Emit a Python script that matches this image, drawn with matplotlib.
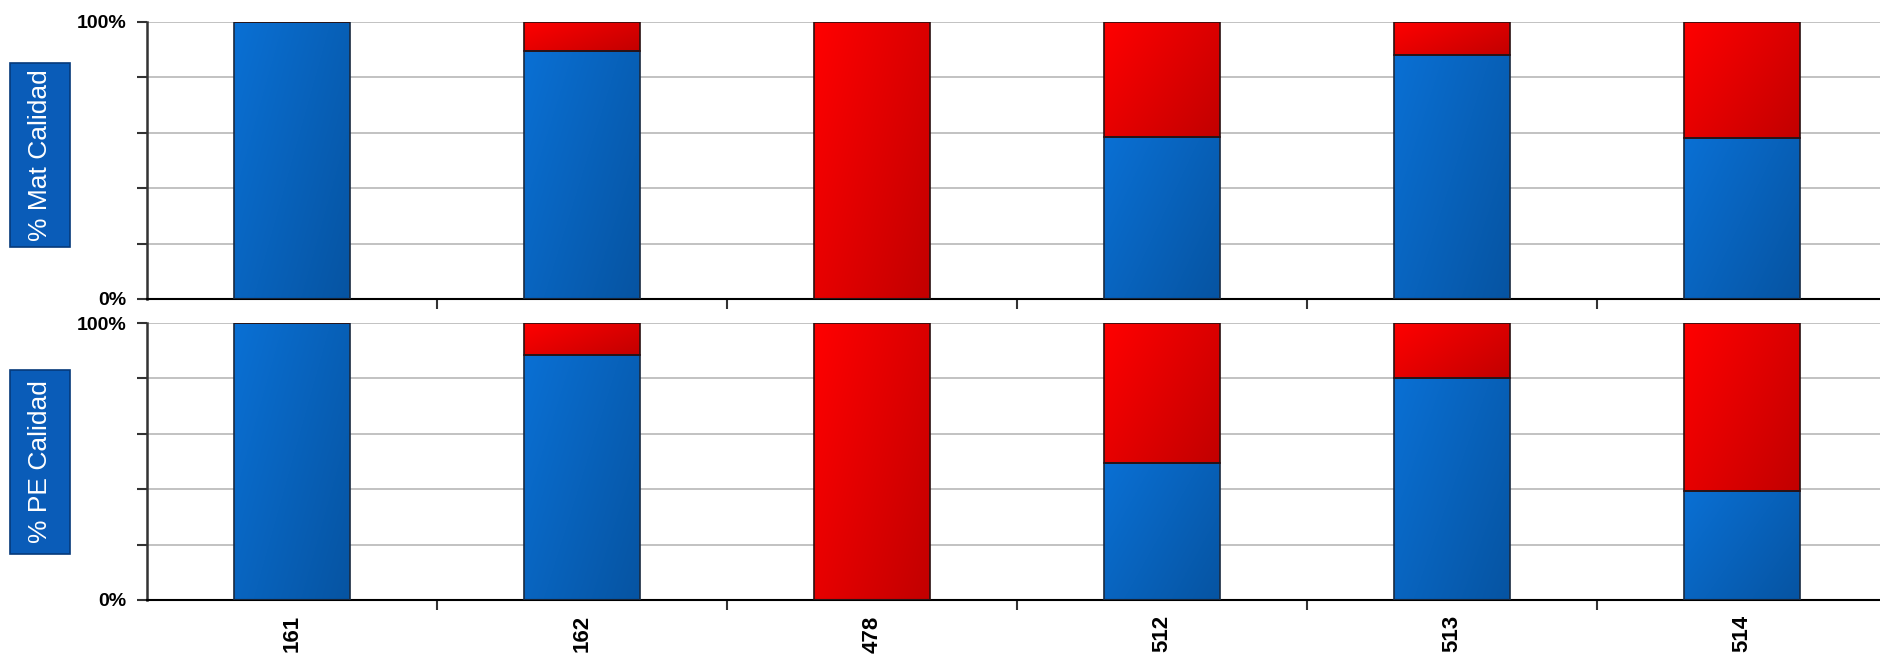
# Barras apiladas al 100 %: calidad de material y PE por código
import numpy as np
import matplotlib.pyplot as plt
from matplotlib.patches import Rectangle
from matplotlib.colors import LinearSegmentedColormap

plt.rcParams['font.family'] = ['Liberation Sans', 'DejaVu Sans']

# Datos (porcentajes)
categorias = ['161', '162', '478', '512', '513', '514']
mat_azul = [100, 89.5, 0, 58.5, 88, 58]
mat_rojo = [0, 10.5, 100, 41.5, 12, 42]
pe_azul = [100, 88.5, 0, 49.5, 80, 39.5]
pe_rojo = [0, 11.5, 100, 50.5, 20, 60.5]
etiquetas_y = ['% Mat Calidad', '% PE Calidad']

W, H = 1880, 659
fig = plt.figure(figsize=(W / 100, H / 100), dpi=100)

izq = 147 / W
ancho = 1740 / W
alto = 277 / H
ax1 = fig.add_axes([izq, 1 - 299 / H, ancho, alto])
ax2 = fig.add_axes([izq, 1 - 600 / H, ancho, alto])

azul = ('#0a70d4', '#0654a2')
rojo = ('#ff0000', '#c20000')


def degradado(ax, barras, c1, c2):
    # relleno con degradado diagonal (claro arriba-izquierda, oscuro abajo-derecha)
    cmap = LinearSegmentedColormap.from_list('g', [c1, c2])
    gx, gy = np.meshgrid(np.linspace(0, 1, 64), np.linspace(0, 1, 64))
    z = 0.6 * gx + 0.4 * gy
    for r in barras:
        if r.get_height() <= 0:
            continue
        x, y, w, h = r.get_x(), r.get_y(), r.get_width(), r.get_height()
        im = ax.imshow(z, cmap=cmap, vmin=0, vmax=1, extent=[x, x + w, y, y + h],
                       origin='upper', aspect='auto', zorder=2, interpolation='bilinear')
        im.set_clip_path(r)


x = np.arange(len(categorias))
ancho_barra = 0.40

for ax, va, vr in [(ax1, mat_azul, mat_rojo), (ax2, pe_azul, pe_rojo)]:
    b1 = ax.bar(x, va, ancho_barra, color=azul[0], zorder=1.5)
    b2 = ax.bar(x, vr, ancho_barra, bottom=va, color=rojo[0], zorder=1.5)
    degradado(ax, b1, *azul)
    degradado(ax, b2, *rojo)
    # contornos
    ax.bar(x, va, ancho_barra, fill=False, edgecolor='#1a2a40', lw=1.2, zorder=3)
    ax.bar(x, vr, ancho_barra, bottom=va, fill=False, edgecolor='#2a1010', lw=1.2, zorder=3)

    ax.set_xlim(-0.5, len(categorias) - 0.5)
    ax.set_ylim(0, 100)
    ax.set_yticks([0, 20, 40, 60, 80, 100])
    ax.set_yticklabels(['0%', '', '', '', '', '100%'], fontweight='heavy', fontsize=14)
    ax.yaxis.grid(True, color='#b8b8b8', lw=1.2)
    ax.set_axisbelow(True)
    ax.tick_params(axis='y', length=7, width=1.5, pad=8, color='#333333')
    ax.spines['top'].set_visible(False)
    ax.spines['right'].set_visible(False)
    ax.spines['left'].set_linewidth(1.8)
    ax.spines['left'].set_color('#333333')
    ax.spines['bottom'].set_linewidth(1.5)
    # marcas del eje x entre categorías
    ax.set_xticks(x[:-1] + 0.5, minor=True)
    ax.set_xticks(x)
    ax.tick_params(axis='x', which='minor', length=7, width=1.5, color='#333333')
    ax.tick_params(axis='x', which='major', length=0)

ax1.set_xticklabels([])
ax2.set_xticklabels(categorias, rotation=90, fontweight='bold', fontsize=16)
ax2.tick_params(axis='x', which='major', pad=11)

# cajas azules con el título del eje
for yc, texto in [(155, etiquetas_y[0]), (462, etiquetas_y[1])]:
    fig.patches.append(Rectangle((10 / W, 1 - (yc + 92) / H), 60 / W, 184 / H,
                                 transform=fig.transFigure, facecolor='#0a5cb8',
                                 edgecolor='#063a7a', lw=1.2))
    fig.text(40 / W, 1 - yc / H, texto, rotation=90, ha='center', va='center',
             color='white', fontsize=19)

fig.savefig('out.png', dpi=100)
